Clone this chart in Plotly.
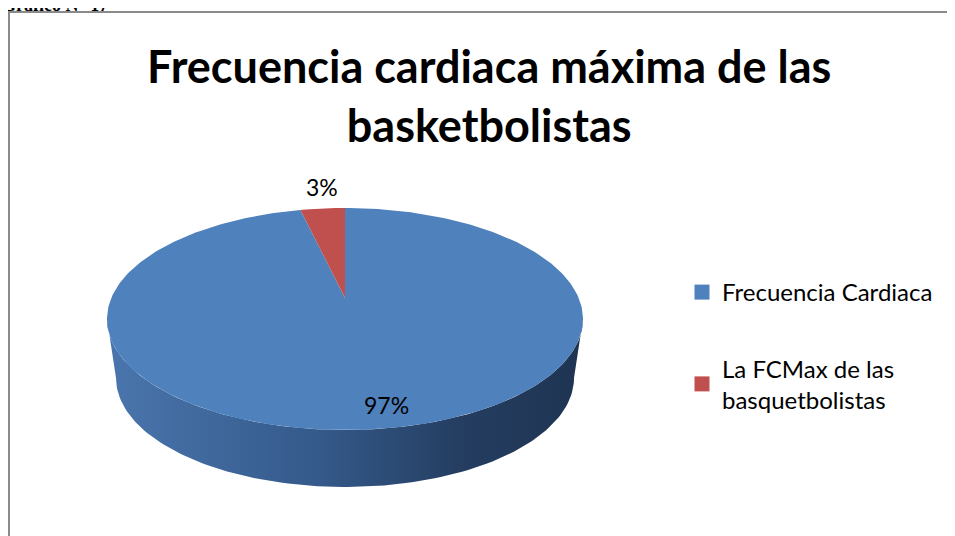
import numpy as np
import plotly.graph_objects as go

# ---- data ----
categories = ["Frecuencia Cardiaca", "La FCMax de las<br>basquetbolistas"]
values = [97, 3]
pct_labels = ["97%", "3%"]
colors = ["#4f81bd", "#c0504d"]
title_text = "Frecuencia cardiaca máxima de las<br>basketbolistas"

W, H = 955, 536
OFF = 8  # page body margin offset
# geometry of the pseudo-3D pie (pixel space)
cx, cy, rx, ry = 345, 319, 238, 111
apex_dy = -21
bcx, bcy, brx, bry = 345, 378, 229, 109

fracs = np.array(values, dtype=float) / sum(values)
starts = np.concatenate([[0], np.cumsum(fracs)[:-1]])

fig = go.Figure()

# side wall (front half), gradient
th = np.radians(np.linspace(90, 270, 120))
tx = cx + rx * np.sin(th)
ty = cy - ry * np.cos(th)
bx = bcx + brx * np.sin(th[::-1])
by = bcy - bry * np.cos(th[::-1])
fig.add_trace(go.Scatter(
    x=np.concatenate([tx, bx]), y=np.concatenate([ty, by]),
    fill="toself", mode="lines", line=dict(width=0),
    fillgradient=dict(type="horizontal",
                      colorscale=[[0, "#4a76ad"], [0.45, "#34598a"], [0.75, "#243d60"], [1, "#1f3452"]]),
    hoverinfo="skip", showlegend=False))

# top face wedges
for i, (s, f) in enumerate(zip(starts, fracs)):
    a = np.radians(np.linspace(s * 360, (s + f) * 360, max(int(f * 360), 3)))
    xs = np.concatenate([[cx], cx + rx * np.sin(a), [cx]])
    ys = np.concatenate([[cy + apex_dy], cy - ry * np.cos(a), [cy + apex_dy]])
    fig.add_trace(go.Scatter(x=xs, y=ys, fill="toself", mode="lines",
                             line=dict(width=0), fillcolor=colors[i],
                             hoverinfo="skip", showlegend=False))

# legend entries
for i, c in enumerate(categories):
    fig.add_trace(go.Scatter(x=[None], y=[None], mode="markers", name=c,
                             legendgroup=str(i),
                             marker=dict(symbol="square", size=15, color=colors[i])))

# percentage labels
label_pos = [(386, 405), (322, 187)]
for (lx, ly), t in zip(label_pos, pct_labels):
    fig.add_annotation(x=lx, y=ly, text=t, showarrow=False,
                       font=dict(family="Lato", size=23, color="black"))

fig.add_annotation(x=489, y=95, text=title_text, showarrow=False,
                   font=dict(family="Lato", size=45, color="black", weight="bold"),
                   xanchor="center", yanchor="middle")

fig.add_annotation(xref="paper", yref="paper", x=-OFF / W, y=1 - 9 / H,
                   xanchor="left", yanchor="bottom",
                   text="<b>Gráfico N° 17</b>",
                   showarrow=False, font=dict(family="Liberation Serif", size=18, color="black"))

fig.add_shape(type="rect", xref="x", yref="y", x0=9, x1=962, y0=12, y1=545,
              line=dict(color="#8a8a8a", width=2), fillcolor="rgba(0,0,0,0)")

fig.update_layout(
    width=W, height=H, margin=dict(l=0, r=0, t=0, b=0),
    paper_bgcolor="white", plot_bgcolor="white",
    xaxis=dict(range=[OFF, W + OFF], visible=False, fixedrange=True),
    yaxis=dict(range=[H + OFF, OFF], visible=False, fixedrange=True),
    legend=dict(x=(682 - OFF) / W, y=1 - (270 - OFF) / H, xanchor="left", yanchor="top",
                font=dict(family="Lato", size=24, color="black"),
                tracegroupgap=42, bgcolor="rgba(0,0,0,0)"),
    showlegend=True,
)

fig.write_html("out.html")
